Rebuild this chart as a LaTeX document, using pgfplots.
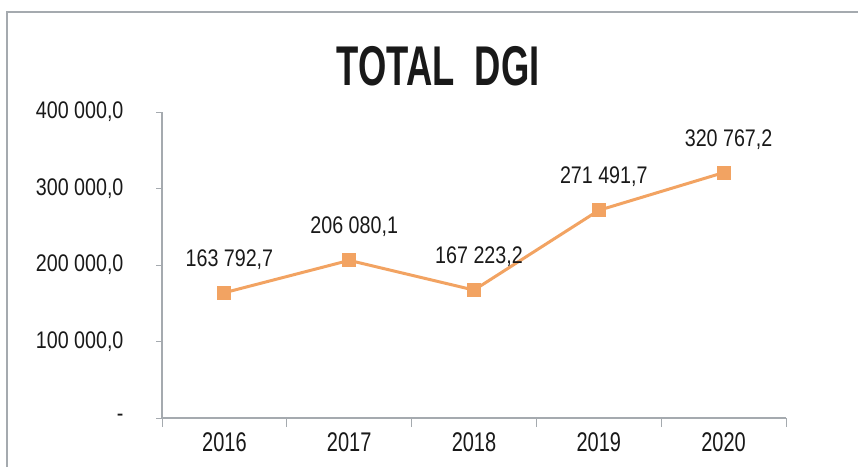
\documentclass[border=0pt]{standalone}
\usepackage{fontspec}
\setmainfont{Liberation Sans}[FakeStretch=0.82]
\newfontfamily\titlefont{Liberation Sans}[FakeStretch=0.65]
\newfontfamily\yearfont{Liberation Sans}[FakeStretch=0.74]
\usepackage{pgfplots}
\pgfplotsset{compat=1.18}
\definecolor{lineorange}{RGB}{242,163,98}
\definecolor{axisgray}{RGB}{165,170,175}
\definecolor{txt}{RGB}{25,25,25}
\begin{document}
\begin{tikzpicture}
\useasboundingbox (0,0) rectangle (858pt,467pt);
\draw[axisgray, line width=1.2pt] (7pt,0) -- (7pt,455pt) -- (858pt,455pt);
\node[txt, font=\titlefont\bfseries\fontsize{56}{60}\selectfont] at (438pt,401pt) {TOTAL\ \ DGI};
\begin{axis}[
    at={(162pt,49pt)}, anchor=south west,
    scale only axis, width=624pt, height=306pt,
    xmin=-0.5, xmax=4.5, ymin=0, ymax=400000,
    axis x line*=bottom, axis y line*=left,
    axis line style={axisgray, line width=1.2pt},
    xtick={0,1,2,3,4},
    xticklabels={2016,2017,2018,2019,2020},
    minor xtick={-0.5,0.5,1.5,2.5,3.5,4.5},
    major x tick style={draw=none},
    minor tick length=9pt,
    ytick={0,100000,200000,300000,400000},
    yticklabels={{-\hspace{9pt}},{100 000,0},{200 000,0},{300 000,0},{400 000,0}},
    scaled y ticks=false,
    major tick length=6pt,
    tick align=outside,
    tick style={axisgray, line width=1pt},
    ticklabel style={txt, font=\fontsize{24}{28}\selectfont},
    xticklabel style={font=\yearfont\fontsize{27}{30}\selectfont, yshift=-5pt},
    yticklabel style={xshift=-29pt},
    /pgf/number format/assume math mode=true,
    clip=false,
    point meta=explicit symbolic,
    nodes near coords,
    nodes near coords style={txt, font=\fontsize{24}{28}\selectfont, anchor=south, yshift=20pt, xshift=5pt},
]
\addplot[lineorange, line width=3pt, mark=square*, mark size=6.5pt,
    mark options={fill=lineorange, draw=lineorange, line width=0pt}]
coordinates {
    (0,163792.7) [163 792,7]
    (1,206080.1) [206 080,1]
    (2,167223.2) [167 223,2]
    (3,271491.7) [271 491,7]
    (4,320767.2) [320 767,2]
};
\end{axis}
\end{tikzpicture}
\end{document}
